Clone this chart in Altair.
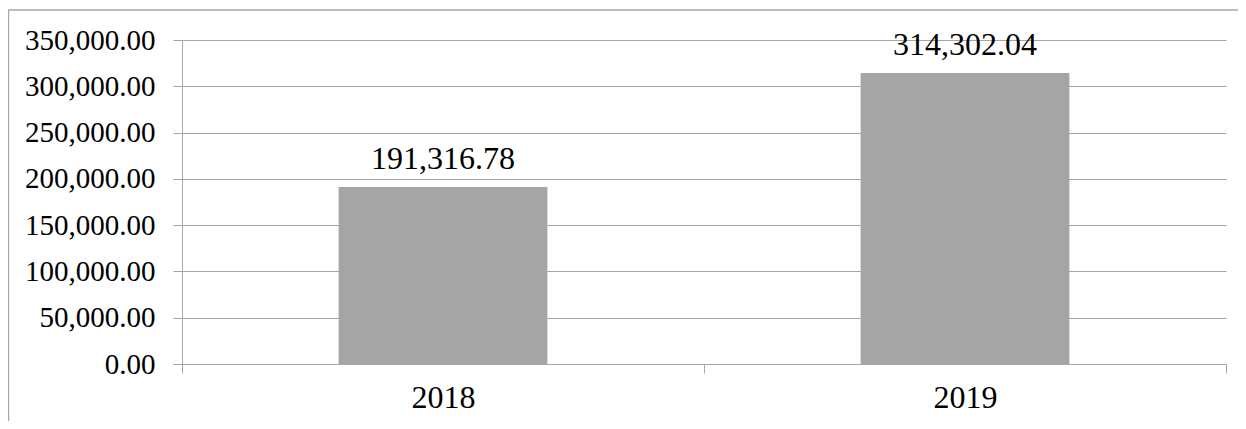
import altair as alt
import pandas as pd

years = ["2018", "2019"]
values = [191316.78, 314302.04]

df = pd.DataFrame({"year": years, "value": values})

FONT = "Liberation Serif"
GRID = "#A6A6A6"

base = alt.Chart(df)

x_enc = alt.X(
    "year:N",
    sort=years,
    scale=alt.Scale(paddingInner=0, paddingOuter=0),
    axis=alt.Axis(
        title=None,
        labelAngle=0,
        tickBand="extent",
        tickSize=9,
        tickColor=GRID,
        domainColor=GRID,
        labelFont=FONT,
        labelFontSize=32,
        labelColor="#000000",
        labelPadding=9,
        grid=False,
    ),
)

y_enc = alt.Y(
    "value:Q",
    scale=alt.Scale(domain=[0, 350000], nice=False),
    axis=alt.Axis(
        title=None,
        values=[0, 50000, 100000, 150000, 200000, 250000, 300000, 350000],
        format=",.2f",
        tickSize=9,
        tickColor=GRID,
        domainColor=GRID,
        gridColor=GRID,
        grid=True,
        labelFont=FONT,
        labelFontSize=29,
        labelColor="#000000",
        labelPadding=18,
    ),
)

bars = base.mark_bar(color="#A5A5A5", width=alt.RelativeBandSize(0.4)).encode(
    x=x_enc, y=y_enc
)

labels = base.mark_text(
    font=FONT, fontSize=32, color="#000000", baseline="alphabetic", dy=-18
).encode(
    x=alt.X("year:N", sort=years),
    y="value:Q",
    text=alt.Text("value:Q", format=",.2f"),
)

border = alt.Chart(df).mark_rect(
    fill=None, fillOpacity=0, stroke=GRID, strokeWidth=1.2, clip=False
).encode(
    x=alt.value(-173.5),
    x2=alt.value(1200),
    y=alt.value(-30),
    y2=alt.value(500),
)

chart = alt.layer(border, bars, labels).properties(
    width=1044,
    height=324,
    autosize=alt.AutoSizeParams(type="none"),
    padding={"left": 174, "top": 32, "right": 12, "bottom": 57},
).configure_view(stroke=None)

chart.save("out.html", embed_options={"renderer": "svg", "actions": False})
